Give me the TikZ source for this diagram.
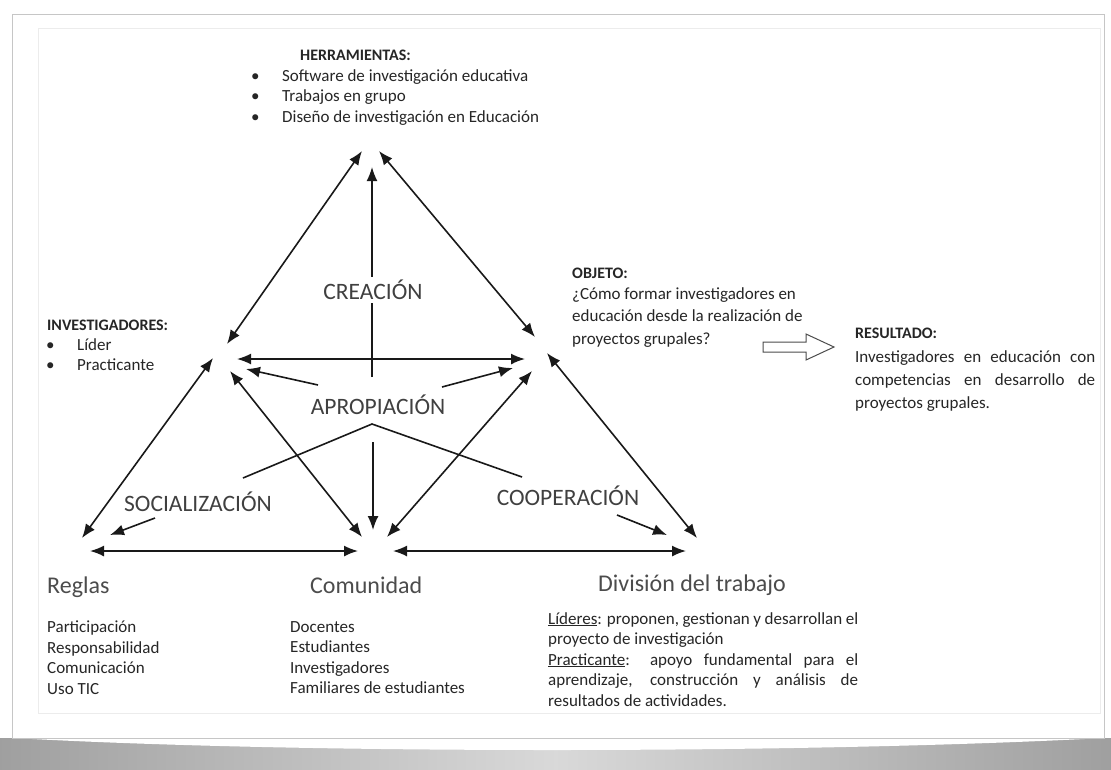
\documentclass[tikz,border=0pt]{standalone}
\usepackage{fontspec}
\setmainfont{Carlito}
\usetikzlibrary{arrows.meta}

\newcommand{\itm}{\makebox[31pt][l]{\textbullet}}

\begin{document}
\begin{tikzpicture}[x=1pt, y=-1pt,
  every node/.style={inner sep=0pt, text=black!85},
  txt/.style={font=\fontsize{17}{20.5}\selectfont, align=left, anchor=north west},
  head/.style={font=\fontsize{16}{20}\selectfont\bfseries, anchor=west},
  big/.style={font=\fontsize{23.5}{28}\selectfont, text=black!75},
  corner/.style={font=\fontsize{24}{28}\selectfont, anchor=base west, text=black!70},
  link/.style={draw=black!90, line width=1.6pt, {Latex[length=14pt,width=11pt]}-{Latex[length=14pt,width=11pt]}},
  tolink/.style={link, -{Latex[length=14pt,width=11pt]}},
  bar/.style={draw=black!90, line width=1.6pt}]
  \useasboundingbox (0,0) rectangle (1111,769);
  % card and shadow
  \fill[white] (0,0) rectangle (1111,769);
  \shade[left color=gray!75, right color=gray!75, middle color=gray!30] (0,738) rectangle (1111,769);
  \fill[white] (14,738) .. controls (300,754) and (800,754) .. (1104,738) -- cycle;
  \draw[gray!45, line width=0.8pt] (12,14) rectangle (1104,738);
  \draw[gray!15, line width=0.6pt] (38,28) rectangle (1100,713);

  % arrow ends round the vertices
  \coordinate (T1) at (362,151);
  \coordinate (T2) at (379,151);
  \coordinate (T3) at (372,167);
  \coordinate (L1) at (227,344);
  \coordinate (L2) at (213,358);
  \coordinate (L3) at (237,359);
  \coordinate (L4) at (246,369);
  \coordinate (L5) at (230,371);
  \coordinate (R1) at (535,337);
  \coordinate (R2) at (525,359);
  \coordinate (R3) at (513,368);
  \coordinate (R4) at (532,371);
  \coordinate (R5) at (547,353);
  \coordinate (B1) at (82,538);
  \coordinate (B2) at (90,551);
  \coordinate (B3) at (110,535);
  \coordinate (C1) at (358,551);
  \coordinate (C2) at (393,551);
  \coordinate (C3) at (362,537);
  \coordinate (C4) at (373,530);
  \coordinate (C5) at (387,537);
  \coordinate (D1) at (686,551);
  \coordinate (D2) at (697,538);
  \coordinate (D3) at (667,535);
  % free ends
  \coordinate (V1) at (372,377);
  \coordinate (V2) at (373,442);
  \coordinate (K1) at (243,478);
  \coordinate (K2) at (372,424);
  \coordinate (K3) at (522,477);
  \coordinate (A1) at (318,385);
  \coordinate (A2) at (442,387);
  \coordinate (S1) at (155,518);
  \coordinate (P1) at (617,515);

  % connectors
  \draw[tolink] (V1) -- (T3);
  \draw[link] (T1) -- (L1);
  \draw[link] (T2) -- (R1);
  \draw[link] (L3) -- (R2);
  \draw[tolink] (A1) -- (L4);
  \draw[tolink] (A2) -- (R3);
  \draw[bar] (K1) -- (K2) -- (K3);
  \draw[tolink] (V2) -- (C4);
  \draw[link] (L2) -- (B1);
  \draw[link] (L5) -- (C3);
  \draw[link] (R4) -- (C5);
  \draw[link] (R5) -- (D2);
  \draw[link] (B2) -- (C1);
  \draw[link] (C2) -- (D1);
  \draw[tolink] (S1) -- (B3);
  \draw[tolink] (P1) -- (D3);

  % hollow arrow
  \draw[black!70, line width=1pt] (763,342) -- (806,342) -- (806,334) -- (834,347) -- (806,360) -- (806,352) -- (763,352) -- cycle;

  % texts
  \node[head] (herr) at (300,55) {HERRAMIENTAS:};
  \node[txt] (herrl) at (251,69) {\itm Software de investigación educativa\\ \itm Trabajos en grupo\\ \itm Diseño de investigación en Educación};
  \node[head] (inv) at (47,325) {INVESTIGADORES:};
  \node[txt] (invl) at (46,338) {\itm Líder\\ \itm Practicante};
  \node[head] (obj) at (572,273) {OBJETO:};
  \node[txt, font=\fontsize{17}{22.5}\selectfont] (objl) at (572,287) {¿Cómo formar investigadores en\\ educación desde la realización de\\ proyectos grupales?};
  \node[head] (res) at (855,333) {RESULTADO:};
  \node[txt, font=\fontsize{17}{23}\selectfont, text width=240pt, align=justify] (resl) at (855,350) {Investigadores en educación con\linebreak competencias en desarrollo de\linebreak proyectos grupales.};

  \node[big, fill=white, inner sep=3pt] (crea) at (373,290) {CREACIÓN};
  \node[big] (apro) at (378,405) {APROPIACIÓN};
  \node[big] (soci) at (198,502) {SOCIALIZACIÓN};
  \node[big] (coop) at (568,496) {COOPERACIÓN};

  \node[corner] (regl) at (47,593) {Reglas};
  \node[corner] (comu) at (310,593) {Comunidad};
  \node[corner] (divi) at (598,591) {División del trabajo};

  \node[txt] (regll) at (47,621) {Participación\\ Responsabilidad\\ Comunicación\\ Uso TIC};
  \node[txt] (comul) at (290,621) {Docentes\\ Estudiantes\\ Investigadores\\ Familiares de estudiantes};
  \node[txt, text width=310pt, align=justify] (divil) at (548,612) {\underline{Líderes}: proponen, gestionan y desarrollan el\linebreak proyecto de investigación\\ \underline{Practicante}: apoyo fundamental para el\linebreak aprendizaje, construcción y análisis de\linebreak resultados de actividades.};
\end{tikzpicture}
\end{document}
